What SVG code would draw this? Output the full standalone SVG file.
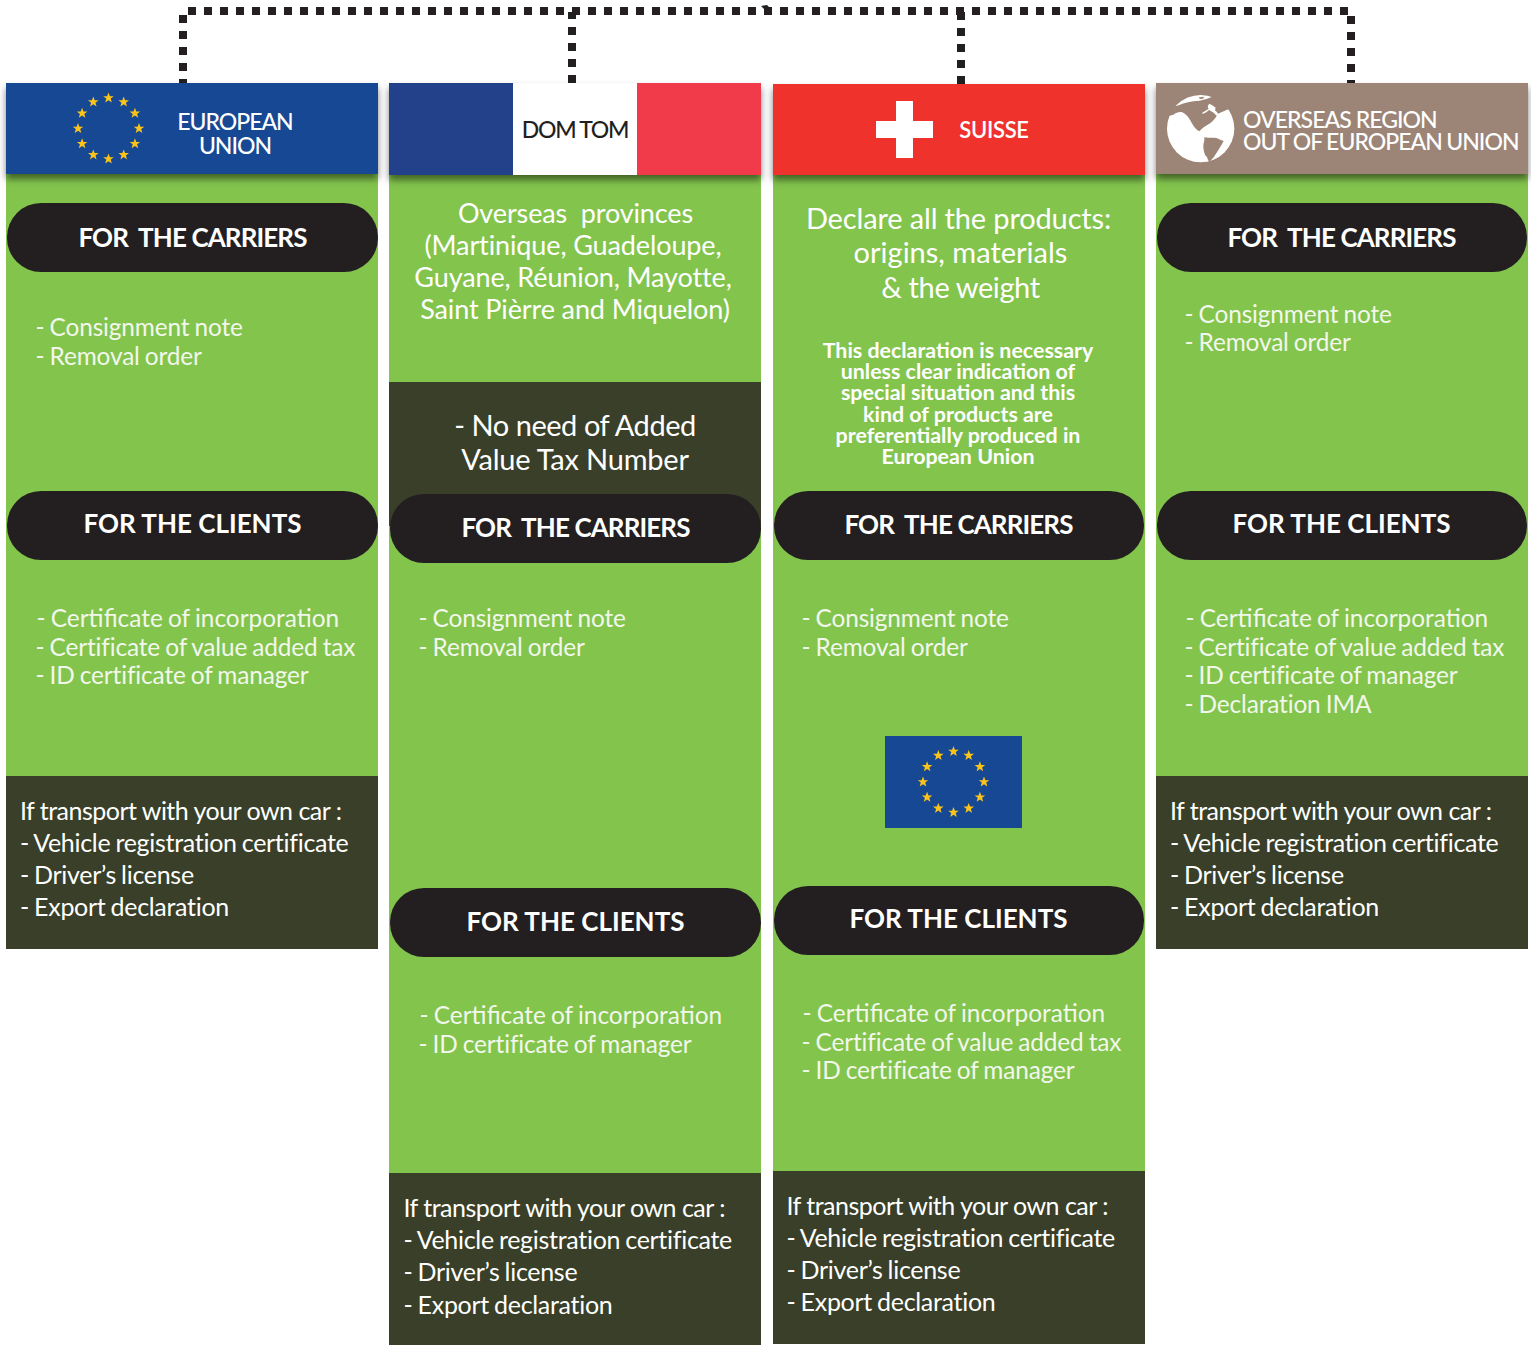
<svg xmlns="http://www.w3.org/2000/svg" xmlns:xlink="http://www.w3.org/1999/xlink" width="1531" height="1345" viewBox="0 0 1531 1345">
<style>
text{font-family:Lato,"Open Sans","Liberation Sans",sans-serif;fill:#fff}
.green{fill:#83c44d}.dark{fill:#393f28}.pill{fill:#231f20}
.hdr{filter:url(#hs)}
.pt{font-size:26px;font-weight:700;text-anchor:middle}
.pc{font-size:26px;font-weight:700;text-anchor:middle;letter-spacing:-.9px}
.li{font-size:24.4px;font-weight:400;fill:#f2f7ec;letter-spacing:-.13px;word-spacing:-1px}
.li2{letter-spacing:0}
.car{font-size:25px;font-weight:400;letter-spacing:-.3px;word-spacing:-1px}
.car1{letter-spacing:-.52px;word-spacing:0}
.hd{font-size:23px;font-weight:500;text-anchor:middle;letter-spacing:-1px}
.ov{font-size:23px;font-weight:500;letter-spacing:-.95px}
.big{font-size:27px;font-weight:400;text-anchor:middle;letter-spacing:-.12px}
.dec{font-size:29px;font-weight:400;text-anchor:middle;letter-spacing:-.15px}
.dots{fill:none;stroke:#231f20;stroke-width:8;stroke-dasharray:8 8}
</style>
<defs>
<filter id="hs" x="-5%" y="-20%" width="110%" height="150%" color-interpolation-filters="sRGB"><feDropShadow dx="0" dy="5" stdDeviation="3.500" flood-color="#000" flood-opacity=".5"/></filter>
<polygon id="s" fill="#fcc419" points="0,-5.500 1.400,-1.800 5.300,-1.800 2.200,.6 3.300,4.500 0,2.200 -3.300,4.500 -2.200,.6 -5.300,-1.800 -1.400,-1.800"/>
<g id="ring">
<use xlink:href="#s" x="0" y="-30.500"/><use xlink:href="#s" x="15.200" y="-26.400"/><use xlink:href="#s" x="26.400" y="-15.200"/><use xlink:href="#s" x="30.500" y="0"/><use xlink:href="#s" x="26.400" y="15.200"/><use xlink:href="#s" x="15.200" y="26.400"/><use xlink:href="#s" x="0" y="30.500"/><use xlink:href="#s" x="-15.200" y="26.400"/><use xlink:href="#s" x="-26.400" y="15.200"/><use xlink:href="#s" x="-30.500" y="0"/><use xlink:href="#s" x="-26.400" y="-15.200"/><use xlink:href="#s" x="-15.200" y="-26.400"/>
</g>
</defs>
<rect width="1531" height="1345" fill="#fff"/>
<g id="connectors">
<path class="dots" d="M183 87V15"/>
<path class="dots" d="M188 11H1348"/>
<path class="dots" d="M572 83V12"/>
<path class="dots" d="M961 84V12"/>
<path class="dots" d="M1351 16V88"/>
<path fill="#231f20" d="M761 6l6-1 3 3-6 1z"/>
</g>
<g id="col-eu">
<rect class="green" x="6" y="174" width="372" height="602"/>
<rect class="dark" x="6" y="776" width="372" height="173"/>
<rect class="hdr" x="6" y="83" width="372" height="91" fill="#174893"/>
<use xlink:href="#ring" x="108.500" y="128.500"/>
<text class="hd" x="235" y="129.500">EUROPEAN</text><text class="hd" x="235" y="153.500">UNION</text>
<rect class="pill" x="7" y="203" width="371" height="69" rx="34"/>
<text class="pc" x="192.500" y="246.500" xml:space="preserve">FOR  THE CARRIERS</text>
<text class="li" x="35.500" y="336">- Consignment note</text><text class="li" x="35.500" y="365">- Removal order</text>
<rect class="pill" x="7" y="491" width="371" height="69" rx="34"/>
<text class="pt" x="192.500" y="533">FOR THE CLIENTS</text>
<text class="li li2" x="36.500" y="627">- Certificate of incorporation</text><text class="li" x="35.500" y="656">- Certificate of value added tax</text><text class="li" x="35.500" y="684">- ID certificate of manager</text>
<text class="car car1" x="20" y="820">If transport with your own car :</text><text class="car" x="20" y="852">- Vehicle registration certificate</text><text class="car" x="20" y="884">- Driver’s license</text><text class="car" x="20" y="916">- Export declaration</text>
</g>
<g id="col-domtom">
<rect class="green" x="389" y="175" width="372" height="998"/>
<rect class="dark" x="389" y="382" width="372" height="144"/>
<rect class="dark" x="389" y="1173" width="372" height="172"/>
<g class="hdr"><rect x="389" y="83" width="124" height="92" fill="#23408a"/><rect x="513" y="83" width="124" height="92" fill="#fff"/><rect x="637" y="83" width="124" height="92" fill="#f13a4a"/></g>
<text class="hd" x="575" y="137.500" style="fill:#231f20;letter-spacing:-1.3px">DOM TOM</text>
<text class="big" x="575.500" y="223" xml:space="preserve">Overseas  provinces</text>
<text class="big" x="573" y="255">(Martinique, Guadeloupe,</text>
<text class="big" x="573" y="287">Guyane, Réunion, Mayotte,</text>
<text class="big" x="575" y="319">Saint Pièrre and Miquelon)</text>
<text x="575" y="436" text-anchor="middle" font-size="29" letter-spacing="-.45">- No need of Added</text><text x="575" y="470" text-anchor="middle" font-size="29" letter-spacing="-.2">Value Tax Number</text>
<rect class="pill" x="390" y="494" width="371" height="69" rx="34"/>
<text class="pc" x="575.500" y="536.500" xml:space="preserve">FOR  THE CARRIERS</text>
<text class="li" x="418.500" y="627">- Consignment note</text><text class="li" x="418.500" y="656">- Removal order</text>
<rect class="pill" x="390" y="888" width="371" height="69" rx="34"/>
<text class="pt" x="575.500" y="931">FOR THE CLIENTS</text>
<text class="li li2" x="419.500" y="1024">- Certificate of incorporation</text><text class="li" x="418.500" y="1053">- ID certificate of manager</text>
<text class="car car1" x="403.500" y="1217">If transport with your own car :</text><text class="car" x="403.500" y="1249">- Vehicle registration certificate</text><text class="car" x="403.500" y="1281">- Driver’s license</text><text class="car" x="403.500" y="1314">- Export declaration</text>
</g>
<g id="col-suisse">
<rect class="green" x="773" y="175" width="372" height="996"/>
<rect class="dark" x="773" y="1171" width="372" height="173"/>
<rect class="hdr" x="773" y="84" width="372" height="91" fill="#f0322c"/>
<path fill="#fff" d="M896 101h17v20h20v17h-20v20h-17v-20h-20v-17h20z"/>
<text class="hd" x="994" y="138" style="font-size:22px;letter-spacing:-.3px;font-weight:600">SUISSE</text>
<text class="dec" x="958.500" y="229">Declare all the products:</text>
<text class="dec" x="960.500" y="263" style="letter-spacing:0">origins, materials</text>
<text class="dec" x="960.500" y="298" style="letter-spacing:-.4px">&amp; the weight</text>
<g font-size="21.400" font-weight="700" text-anchor="middle">
<text x="958" y="358">This declaration is necessary</text><text x="958" y="379">unless clear indication of</text><text x="958" y="400">special situation and this</text><text x="958" y="422">kind of products are</text><text x="958" y="443">preferentially produced in</text><text x="958" y="464">European Union</text></g>
<rect class="pill" x="774" y="491" width="370" height="69" rx="34"/>
<text class="pc" x="958.500" y="533.500" xml:space="preserve">FOR  THE CARRIERS</text>
<text class="li" x="801.500" y="627">- Consignment note</text><text class="li" x="801.500" y="656">- Removal order</text>
<rect x="885" y="736" width="137" height="92" fill="#174893"/>
<use xlink:href="#ring" x="953.500" y="782"/>
<rect class="pill" x="774" y="886" width="370" height="69" rx="34"/>
<text class="pt" x="958.500" y="928">FOR THE CLIENTS</text>
<text class="li li2" x="802.500" y="1022">- Certificate of incorporation</text><text class="li" x="801.500" y="1051">- Certificate of value added tax</text><text class="li" x="801.500" y="1079">- ID certificate of manager</text>
<text class="car car1" x="786.500" y="1215">If transport with your own car :</text><text class="car" x="786.500" y="1247">- Vehicle registration certificate</text><text class="car" x="786.500" y="1279">- Driver’s license</text><text class="car" x="786.500" y="1311">- Export declaration</text>
</g>
<g id="col-overseas">
<rect class="green" x="1156" y="174" width="372" height="602"/>
<rect class="dark" x="1156" y="776" width="372" height="173"/>
<rect class="hdr" x="1156" y="83" width="372" height="91" fill="#9c8576"/>
<g transform="translate(1165 92) scale(.3333)">
<circle cx="107" cy="110" r="101" fill="#fff"/>
<path fill="#9c8576" d="M0 75L25 68C34 62 44 58 52 61C64 66 72 78 80 92C86 104 94 113 103 118C110 110 118 104 128 98C140 92 150 82 158 66C170 60 182 54 196 50L215 60V0H150L140 15C130 20 120 22 104 26C90 27 72 29 60 33C50 36 40 40 32 43L20 40Z"/>
<path fill="#9c8576" d="M118 135C130 140 150 134 160 140C166 144 172 145 176 147C168 162 158 178 150 190C145 198 140 204 133 209C128 205 128 200 126 195C118 190 116 175 115 165C114 155 120 145 118 135Z"/>
<path fill="#fff" d="M112 62C118 58 126 54 131 50C126 44 130 36 134 35C140 38 146 42 152 47L150 55C156 60 160 66 164 74C156 72 150 68 146 62L132 54C126 60 120 63 112 66Z"/>
<path fill="#9c8576" d="M102 16L118 14 114 20 104 21Z"/>
</g>
<text class="ov" x="1243" y="127.500">OVERSEAS REGION</text><text class="ov" x="1243" y="149.500" style="word-spacing:-.6px">OUT OF EUROPEAN UNION</text>
<rect class="pill" x="1157" y="203" width="370" height="69" rx="34"/>
<text class="pc" x="1341.500" y="246.500" xml:space="preserve">FOR  THE CARRIERS</text>
<text class="li" x="1184.500" y="323">- Consignment note</text><text class="li" x="1184.500" y="351">- Removal order</text>
<rect class="pill" x="1157" y="491" width="370" height="69" rx="34"/>
<text class="pt" x="1341.500" y="533">FOR THE CLIENTS</text>
<text class="li li2" x="1185.500" y="627">- Certificate of incorporation</text><text class="li" x="1184.500" y="656">- Certificate of value added tax</text><text class="li" x="1184.500" y="684">- ID certificate of manager</text><text class="li" x="1184.500" y="713">- Declaration IMA</text>
<text class="car car1" x="1170" y="820">If transport with your own car :</text><text class="car" x="1170" y="852">- Vehicle registration certificate</text><text class="car" x="1170" y="884">- Driver’s license</text><text class="car" x="1170" y="916">- Export declaration</text>
</g>
</svg>
